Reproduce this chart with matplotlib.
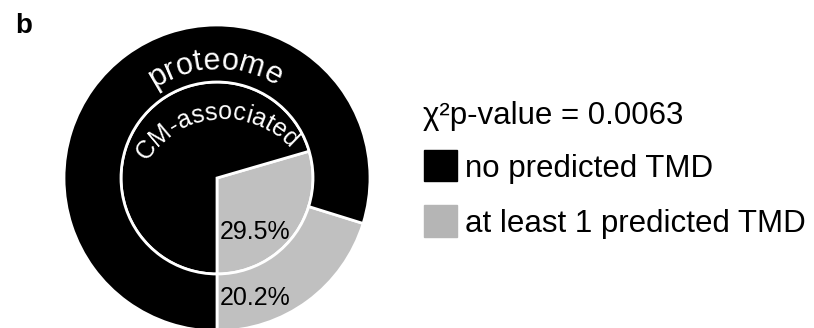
import numpy as np
import matplotlib
matplotlib.use("Agg")
import matplotlib.pyplot as plt
from matplotlib.patches import Rectangle
from matplotlib.font_manager import FontProperties
from matplotlib.textpath import TextToPath

plt.rcParams['font.family'] = ['Liberation Sans', 'DejaVu Sans']

# data
inner_name = "CM-associated"
outer_name = "proteome"
inner_vals = [29.5, 70.5]   # at least 1 TMD, no TMD
outer_vals = [20.2, 79.8]
inner_label = "29.5%"
outer_label = "20.2%"
legend_labels = ["no predicted TMD", "at least 1 predicted TMD"]
pvalue_text = "\u03c7\u00b2p-value = 0.0063"

BLACK = "#000000"
GRAY = "#c0c0c0"
LEG_GRAY = "#b5b5b5"
H = 328


def curved_text(ax, s, cx, cy, r, mid_deg, size, spacing=0.0, color="white"):
    # place chars one by one along an arc, reading clockwise over the top
    t2p = TextToPath()
    px = size * 100 / 72.0
    prop = FontProperties(family="Liberation Sans", size=px)
    def w(t):
        if t == "":
            return 0.0
        return t2p.get_text_width_height_descent(t, prop, ismath=False)[0]
    total = w(s) + spacing * (len(s) - 1)
    for i, ch in enumerate(s):
        pos = (w(s[:i]) + w(s[:i + 1])) / 2 + spacing * i
        th = np.radians(mid_deg) + (total / 2 - pos) / r
        ax.text(cx + r * np.cos(th), cy + r * np.sin(th), ch,
                rotation=np.degrees(th) - 90, rotation_mode="anchor",
                ha="center", va="baseline", fontsize=size, color=color)


fig = plt.figure(figsize=(8.14, 3.28), dpi=100)
ax = fig.add_axes([0, 0, 1, 1])

cx, cy = 217, H - 178
ax.pie(inner_vals, radius=96, center=(cx, cy), startangle=270,
       colors=[GRAY, BLACK], wedgeprops=dict(edgecolor="white", linewidth=2))
ax.pie(outer_vals, radius=153, center=(cx, cy), startangle=270,
       colors=[GRAY, BLACK],
       wedgeprops=dict(width=57, edgecolor="white", linewidth=2))

ax.text(220, H - 232, inner_label, fontsize=18, ha="left", va="center")
ax.text(220, H - 298, outer_label, fontsize=18, ha="left", va="center")

curved_text(ax, outer_name, cx, cy, 109, 91, 22)
curved_text(ax, inner_name, 223, H - 208, 89, 95, 18)

ax.text(15, H - 33, "b", fontsize=20, fontweight="bold", va="baseline")

ax.text(423, H - 124, pvalue_text, fontsize=22.5, va="baseline")
ax.add_patch(Rectangle((424, H - 181), 33, 31, color=BLACK))
ax.add_patch(Rectangle((424, H - 237), 33, 32, color=LEG_GRAY))
ax.text(465, H - 177, legend_labels[0], fontsize=22.5, va="baseline")
ax.text(465, H - 232, legend_labels[1], fontsize=22.5, va="baseline")

ax.set_xlim(0, 814)
ax.set_ylim(0, H)
ax.set_aspect("equal")
ax.axis("off")

fig.savefig("out.png", dpi=100)
